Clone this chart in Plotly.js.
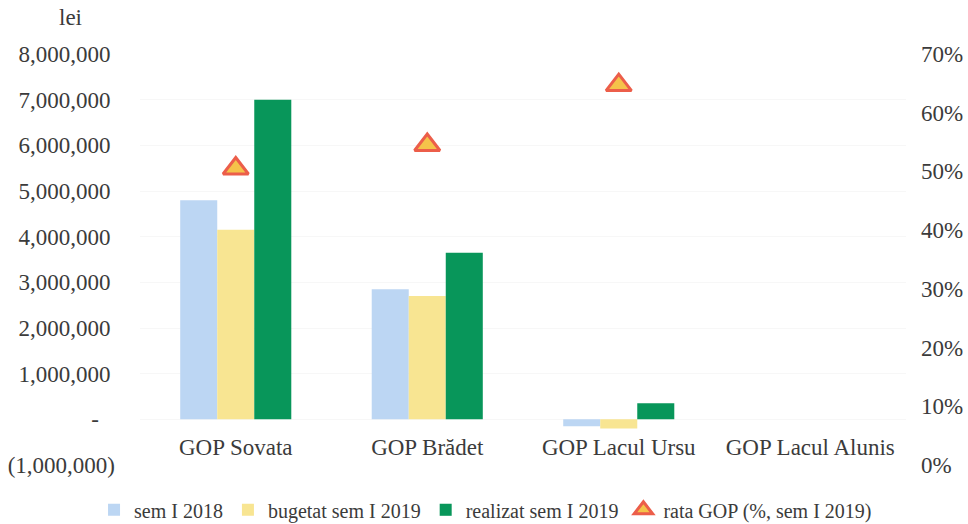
<!DOCTYPE html>
<html>
<head>
<meta charset="utf-8">
<script src="https://cdn.plot.ly/plotly-3.0.1.min.js"></script>
<style>html,body{margin:0;padding:0;background:#fff;}#chart{width:968px;height:524px;}</style>
</head>
<body>
<div id="chart"></div>
<script>
const categories = ["GOP Sovata", "GOP Brădet", "GOP Lacul Ursu", "GOP Lacul Alunis"];
const sem2018 = [4800000, 2850000, -150000, null];
const bugetat2019 = [4150000, 2700000, -200000, null];
const realizat2019 = [7000000, 3650000, 350000, null];
const rataGOP = [0.505, 0.545, 0.647, null];
const seriesNames = ["sem I 2018", "bugetat sem I 2019", "realizat sem I 2019", "rata GOP (%, sem I 2019)"];
const leftTickVals = [-1000000, 0, 1000000, 2000000, 3000000, 4000000, 5000000, 6000000, 7000000, 8000000];
const leftTickText = ["(1,000,000)", "-\u2002\u2009", "1,000,000\u2009", "2,000,000\u2009", "3,000,000\u2009", "4,000,000\u2009", "5,000,000\u2009", "6,000,000\u2009", "7,000,000\u2009", "8,000,000\u2009"];
const leftRange = [-1000000, 8000000];
const rightRange = [0, 0.7];
const unitLabel = "lei";

const font = {family: "Liberation Serif, Times New Roman, serif", size: 23, color: "#3b3b3b"};

const traces = [
  {type: "bar", name: seriesNames[0], x: categories, y: sem2018, marker: {color: "#bcd6f3"}, yaxis: "y", xaxis: "x"},
  {type: "bar", name: seriesNames[1], x: categories, y: bugetat2019, marker: {color: "#f8e592"}, yaxis: "y", xaxis: "x"},
  {type: "bar", name: seriesNames[2], x: categories, y: realizat2019, marker: {color: "#08965a"}, yaxis: "y", xaxis: "x"},
  {type: "scatter", mode: "markers", name: seriesNames[3], x: categories, y: rataGOP, yaxis: "y2", xaxis: "x",
   marker: {symbol: "triangle-up", size: 22, color: "#f5c34a", line: {color: "#ec5e4a", width: 3}}}
];

const zeroPos = (0 - leftRange[0]) / (leftRange[1] - leftRange[0]);

const layout = {
  width: 968, height: 524,
  margin: {l: 140, r: 62, t: 54, b: 59, autoexpand: false},
  paper_bgcolor: "#ffffff", plot_bgcolor: "#ffffff",
  font: font,
  barmode: "group", bargap: 0.42, bargroupgap: 0,
  showlegend: true,
  legend: {orientation: "h", xref: "paper", yref: "paper", x: -0.06, xanchor: "left", y: -0.109, yanchor: "middle",
           font: {family: font.family, size: 20, color: "#3b3b3b"}, itemwidth: 30, traceorder: "normal",
           tracegroupgap: 0},
  xaxis: {type: "category", anchor: "free", position: zeroPos, showline: false, showgrid: false,
          zeroline: false, ticks: "", tickfont: font, ticklabelstandoff: 12, range: [-0.5, 3.5]},
  yaxis: {range: leftRange, tickvals: leftTickVals, ticktext: leftTickText, showgrid: true,
          gridcolor: "#f7f7f7", zeroline: false, showline: false, ticks: "", tickfont: font, ticklabelstandoff: 24},
  yaxis2: {range: rightRange, overlaying: "y", side: "right", tickformat: ".0%", dtick: 0.1, tick0: 0,
           showgrid: false, zeroline: false, showline: false, ticks: "", tickfont: font, ticklabelstandoff: 14},
  annotations: [
    {text: unitLabel, xref: "paper", yref: "paper", x: -0.091, y: 1.088, xanchor: "center", yanchor: "middle",
     showarrow: false, font: font}
  ]
};

Plotly.newPlot("chart", traces, layout, {displayModeBar: false, staticPlot: true});
</script>
</body>
</html>
